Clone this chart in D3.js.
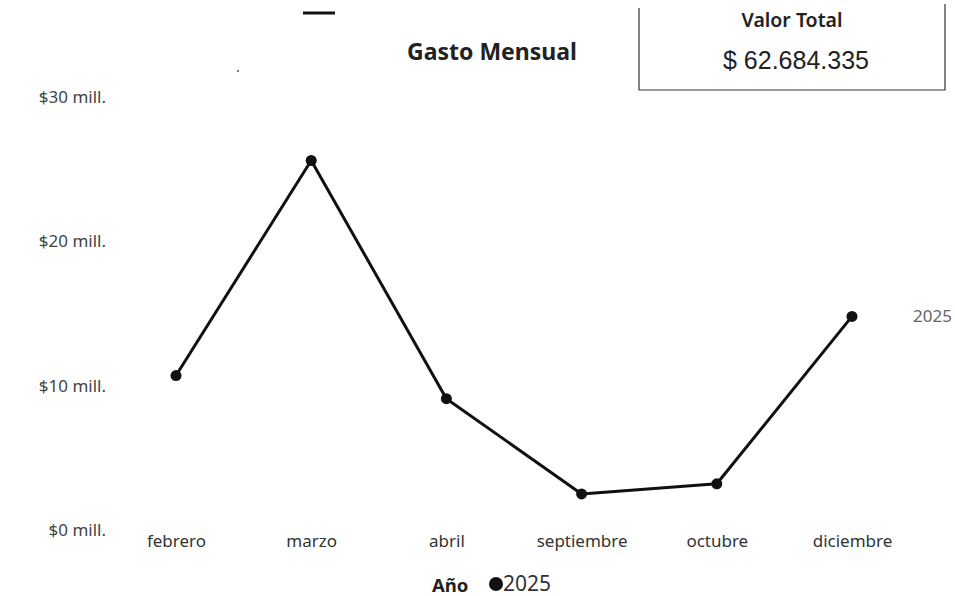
<!DOCTYPE html>
<html><head><meta charset="utf-8">
<script src="https://cdn.jsdelivr.net/npm/d3@7"></script>
<style>html,body{margin:0;padding:0;background:#fff;}svg{display:block;}</style>
</head><body>
<svg id="c" width="955" height="596"></svg>
<script>
const months = ["febrero","marzo","abril","septiembre","octubre","diciembre"];
const values = [10.7, 25.6, 9.1, 2.5, 3.2, 14.8]; // millones
const yTicks = [0, 10, 20, 30];
const seriesName = "2025";
const title = "Gasto Mensual";
const cardLabel = "Valor Total";
const cardValue = "$ 62.684.335";

const svg = d3.select("#c");
const font = "'Noto Sans', 'Open Sans', sans-serif";

const x = d3.scalePoint().domain(months).range([176, 852]);
const y = d3.scaleLinear().domain([0, 30]).range([530, 97]);

// y axis labels
const yAxis = d3.axisLeft(y).tickValues(yTicks).tickSize(0).tickPadding(0)
  .tickFormat(d => "$" + d + " mill.");
const gy = svg.append("g").attr("transform", "translate(106,0)").call(yAxis);
gy.select(".domain").remove();
gy.selectAll("text").attr("font-family", font).attr("font-size", 17).attr("fill", "#444");

// x axis labels
const xAxis = d3.axisBottom(x).tickSize(0).tickPadding(0);
const gx = svg.append("g").attr("transform", "translate(0,535)").call(xAxis);
gx.select(".domain").remove();
gx.selectAll("text").attr("font-family", font).attr("font-size", 17).attr("fill", "#333");

const data = months.map((m, i) => ({m, v: values[i]}));
svg.append("path").datum(data)
  .attr("fill", "none").attr("stroke", "#111").attr("stroke-width", 3)
  .attr("stroke-linejoin", "round")
  .attr("d", d3.line().x(d => x(d.m)).y(d => y(d.v)));
svg.selectAll("circle.pt").data(data).join("circle").attr("class", "pt")
  .attr("cx", d => x(d.m)).attr("cy", d => y(d.v)).attr("r", 5.5).attr("fill", "#111");

// end label
const last = data[data.length - 1];
svg.append("text").attr("x", x(last.m) + 61).attr("y", y(last.v) + 6)
  .attr("font-family", font).attr("font-size", 17).attr("fill", "#666").text(seriesName);

// title
svg.append("text").attr("x", 492).attr("y", 60).attr("text-anchor", "middle")
  .attr("font-family", font).attr("font-size", 23).attr("font-weight", "bold").attr("fill", "#222").text(title);

// decorative dash
svg.append("line").attr("x1", 303).attr("x2", 335).attr("y1", 13).attr("y2", 13)
  .attr("stroke", "#111").attr("stroke-width", 3);
svg.append("circle").attr("cx", 238).attr("cy", 71).attr("r", 1).attr("fill", "#555");

// card
svg.append("path").attr("d", "M639,8 L639,90 L945,90 L945,4")
  .attr("fill", "none").attr("stroke", "#333").attr("stroke-width", 1.2);
svg.append("text").attr("x", 792).attr("y", 27).attr("text-anchor", "middle")
  .attr("font-family", font).attr("font-size", 19.5).attr("font-weight", 600).attr("fill", "#222").text(cardLabel);
svg.append("text").attr("x", 796).attr("y", 69).attr("text-anchor", "middle")
  .attr("font-family", "'Liberation Sans', Arial, sans-serif").attr("font-size", 25).attr("fill", "#222").text(cardValue);

// legend
svg.append("text").attr("x", 432).attr("y", 592)
  .attr("font-family", font).attr("font-size", 18.5).attr("font-weight", "bold").attr("fill", "#222").text("Año");
svg.append("circle").attr("cx", 496).attr("cy", 584).attr("r", 7).attr("fill", "#111");
svg.append("text").attr("x", 503).attr("y", 591)
  .attr("font-family", font).attr("font-size", 21).attr("fill", "#333").text(seriesName);
</script>
</body></html>
